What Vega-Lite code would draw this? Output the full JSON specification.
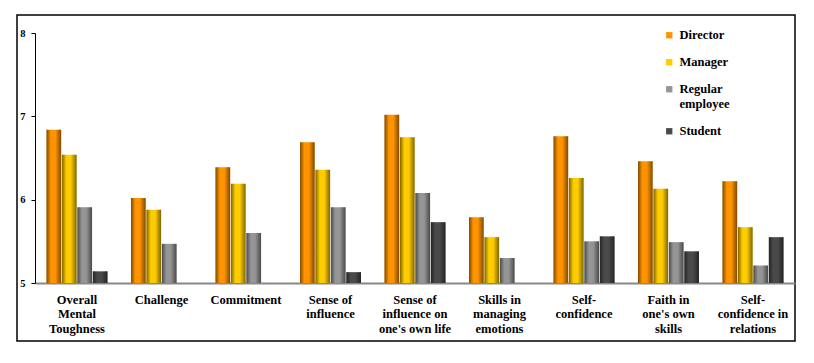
{
  "$schema": "https://vega.github.io/schema/vega-lite/v6.json",
  "width": 778,
  "height": 326,
  "padding": {"left": 17, "top": 15, "right": 19, "bottom": 22},
  "autosize": {"type": "pad"},
  "config": {
    "view": {"stroke": "black", "strokeWidth": 1.5},
    "font": "'Liberation Serif', 'Times New Roman', Times, serif"
  },
  "data": {
    "values": [
      {"aspect": "Overall Mental Toughness", "group": "Director", "score": 6.84},
      {"aspect": "Overall Mental Toughness", "group": "Manager", "score": 6.54},
      {"aspect": "Overall Mental Toughness", "group": "Regular employee", "score": 5.91},
      {"aspect": "Overall Mental Toughness", "group": "Student", "score": 5.14},
      {"aspect": "Challenge", "group": "Director", "score": 6.02},
      {"aspect": "Challenge", "group": "Manager", "score": 5.88},
      {"aspect": "Challenge", "group": "Regular employee", "score": 5.47},
      {"aspect": "Commitment", "group": "Director", "score": 6.39},
      {"aspect": "Commitment", "group": "Manager", "score": 6.19},
      {"aspect": "Commitment", "group": "Regular employee", "score": 5.6},
      {"aspect": "Sense of influence", "group": "Director", "score": 6.69},
      {"aspect": "Sense of influence", "group": "Manager", "score": 6.36},
      {"aspect": "Sense of influence", "group": "Regular employee", "score": 5.91},
      {"aspect": "Sense of influence", "group": "Student", "score": 5.13},
      {"aspect": "Sense of influence on one's own life", "group": "Director", "score": 7.02},
      {"aspect": "Sense of influence on one's own life", "group": "Manager", "score": 6.75},
      {"aspect": "Sense of influence on one's own life", "group": "Regular employee", "score": 6.08},
      {"aspect": "Sense of influence on one's own life", "group": "Student", "score": 5.73},
      {"aspect": "Skills in managing emotions", "group": "Director", "score": 5.79},
      {"aspect": "Skills in managing emotions", "group": "Manager", "score": 5.55},
      {"aspect": "Skills in managing emotions", "group": "Regular employee", "score": 5.3},
      {"aspect": "Self-confidence", "group": "Director", "score": 6.76},
      {"aspect": "Self-confidence", "group": "Manager", "score": 6.26},
      {"aspect": "Self-confidence", "group": "Regular employee", "score": 5.5},
      {"aspect": "Self-confidence", "group": "Student", "score": 5.56},
      {"aspect": "Faith in one's own skills", "group": "Director", "score": 6.46},
      {"aspect": "Faith in one's own skills", "group": "Manager", "score": 6.13},
      {"aspect": "Faith in one's own skills", "group": "Regular employee", "score": 5.49},
      {"aspect": "Faith in one's own skills", "group": "Student", "score": 5.38},
      {"aspect": "Self-confidence in relations", "group": "Director", "score": 6.22},
      {"aspect": "Self-confidence in relations", "group": "Manager", "score": 5.67},
      {"aspect": "Self-confidence in relations", "group": "Regular employee", "score": 5.21},
      {"aspect": "Self-confidence in relations", "group": "Student", "score": 5.55}
    ]
  },
  "encoding": {
    "x": {
      "field": "aspect",
      "type": "nominal",
      "sort": null,
      "scale": {"range": [18, 778], "paddingInner": 0.278, "paddingOuter": 0.136},
      "axis": {
        "title": null,
        "orient": "bottom",
        "offset": -58,
        "ticks": false,
        "domainColor": "#888888",
        "domainWidth": 2,
        "labelAngle": 0,
        "labelFont": "'Liberation Serif', 'Times New Roman', Times, serif",
        "labelFontSize": 12.5,
        "labelFontWeight": "bold",
        "labelColor": "black",
        "labelPadding": 10,
        "labelLineHeight": 14.5,
        "labelBaseline": "top",
        "labelLimit": 0,
        "labelExpr": "({'Overall Mental Toughness': ['Overall', 'Mental', 'Toughness'], 'Challenge': ['Challenge'], 'Commitment': ['Commitment'], 'Sense of influence': ['Sense of', 'influence'], \"Sense of influence on one's own life\": ['Sense of', 'influence on', \"one's own life\"], 'Skills in managing emotions': ['Skills in', 'managing', 'emotions'], 'Self-confidence': ['Self-', 'confidence'], \"Faith in one's own skills\": ['Faith in', \"one's own\", 'skills'], 'Self-confidence in relations': ['Self-', 'confidence in', 'relations']})[datum.label]"
      }
    },
    "xOffset": {
      "field": "group",
      "type": "nominal",
      "sort": ["Director", "Manager", "Regular employee", "Student"],
      "scale": {"paddingInner": 0.05}
    },
    "y": {
      "field": "score",
      "type": "quantitative",
      "scale": {"domain": [5, 8], "range": [268, 18], "nice": false, "zero": false},
      "axis": {
        "title": null,
        "values": [5, 6, 7, 8],
        "offset": -18,
        "grid": false,
        "domainColor": "black",
        "tickColor": "black",
        "tickSize": 4,
        "labelFont": "'Liberation Serif', 'Times New Roman', Times, serif",
        "labelFontWeight": "bold",
        "labelFontSize": 10.5,
        "labelColor": "black",
        "labelPadding": 6
      }
    },
    "y2": {"datum": 5}
  },
  "layer": [
    {
      "mark": {"type": "bar"},
      "encoding": {
        "color": {
          "field": "group",
          "type": "nominal",
          "sort": ["Director", "Manager", "Regular employee", "Student"],
          "scale": {
            "domain": ["Director", "Manager", "Regular employee", "Student"],
            "range": ["#FF9400", "#FFCC00", "#959595", "#4A4A4A"]
          },
          "legend": {
            "orient": "none",
            "legendX": 646,
            "legendY": 14,
            "title": null,
            "symbolType": "square",
            "symbolSize": 40,
            "symbolStrokeWidth": 0,
            "labelFont": "'Liberation Serif', 'Times New Roman', Times, serif",
            "labelFontWeight": "bold",
            "labelFontSize": 12.5,
            "labelColor": "black",
            "rowPadding": 14,
            "labelExpr": "datum.label == 'Regular employee' ? ['Regular', 'employee'] : datum.label"
          }
        }
      }
    },
    {
      "mark": {
        "type": "bar",
        "fill": {
          "gradient": "linear",
          "x1": 0, "x2": 1, "y1": 0, "y2": 0,
          "stops": [
            {"offset": 0, "color": "rgba(0,0,0,0.5)"},
            {"offset": 0.3, "color": "rgba(0,0,0,0)"},
            {"offset": 0.6, "color": "rgba(0,0,0,0)"},
            {"offset": 1, "color": "rgba(0,0,0,0.5)"}
          ]
        }
      }
    }
  ]
}
